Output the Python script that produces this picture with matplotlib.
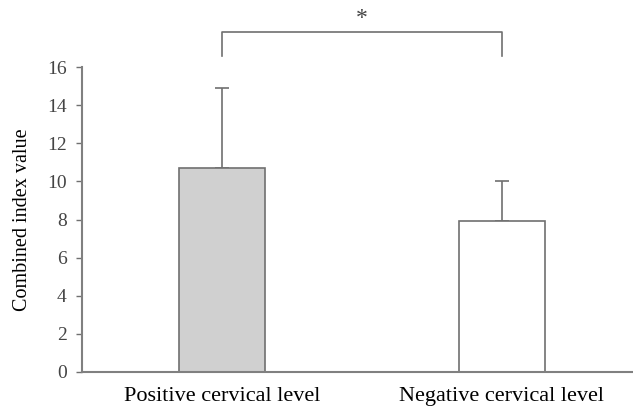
import matplotlib.pyplot as plt

# bar data
groups = ['Positive cervical level', 'Negative cervical level']
means = [10.7, 7.95]
err_up = [4.2, 2.05]
fills = ['#d0d0d0', 'white']
yticks = [0, 2, 4, 6, 8, 10, 12, 14, 16]

plt.rcParams['font.family'] = ['Liberation Serif', 'DejaVu Serif']

fig = plt.figure(figsize=(6.33, 4.07), dpi=100)
ax = fig.add_axes([0.1295, 0.086, 0.8705, 0.749])

x = list(range(len(groups)))
ax.bar(x, means, width=0.31, color=fills, edgecolor='#707070', linewidth=1.2, zorder=2)
ax.errorbar(x, means, yerr=[[0, 0], err_up], fmt='none', ecolor='#707070',
            elinewidth=1.2, capsize=5, capthick=1.2, zorder=1)

ax.set_xlim(-0.5, 1.468)
ax.set_ylim(0, 16)
ax.set_yticks(yticks)
ax.set_xticks(x)
ax.set_xticklabels(groups, fontsize=16)
ax.tick_params(axis='x', length=0, pad=11)
ax.tick_params(axis='y', length=4, color='#707070', labelsize=14, labelcolor='#444444',
               width=1, pad=7)
ax.set_ylabel('Combined index value', fontsize=14.5, labelpad=11)

for s in ['top', 'right']:
    ax.spines[s].set_visible(False)
for s in ['left', 'bottom']:
    ax.spines[s].set_color('#808080')
    ax.spines[s].set_linewidth(1.5)

# significance bracket
ax.plot([0, 0, 1, 1], [16.6, 17.85, 17.85, 16.6], color='#707070', lw=1.2, clip_on=False)
ax.text(0.5, 18.0, '*', ha='center', va='bottom', fontsize=17, color='#444444')

fig.savefig('out.png')
